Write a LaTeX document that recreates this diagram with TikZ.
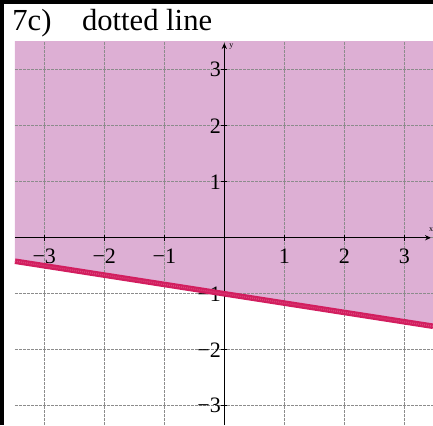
\documentclass[tikz,border=0pt]{standalone}
\usepackage{fontspec}
\setmainfont{Liberation Serif}
\usetikzlibrary{arrows.meta}
\definecolor{regionpink}{RGB}{221,175,212}
\definecolor{edgecrimson}{RGB}{210,30,95}
\definecolor{edgelight}{RGB}{222,70,125}
\begin{document}
\begin{tikzpicture}[
x=30pt, y=28pt,
gridline/.style={gray!90, line width=0.5pt, dash pattern=on 1.5pt off 0.5pt},
axis/.style={-{Stealth[length=3pt, width=2.6pt]}, line width=0.5pt},
ticklabel/.style={inner sep=0pt, font=\fontsize{11}{13}\selectfont},
axislabel/.style={inner sep=0pt, font=\fontsize{4}{5}\selectfont},
boundary/.style={edgecrimson, line width=2.8pt},
boundarytex/.style={edgelight, line width=0.7pt, dash pattern=on 0.4pt off 0.6pt}
]
\useasboundingbox (-3.738,-3.345) rectangle (3.478,4.245);
% shaded half-plane above the boundary
\coordinate (lineL) at (-3.488,-0.419);
\coordinate (lineR) at (3.478,-1.580);
\fill[regionpink] (lineL) -- (lineR) -- (3.478,3.512) -- (-3.488,3.512) -- cycle;
% grid
\foreach \k in {-3,...,3} {
  \draw[gridline] (\k,-3.345) -- (\k,3.512);
  \draw[gridline] (-3.488,\k) -- (3.478,\k);
}
% axes
\coordinate (xmin) at (-3.488,0);
\coordinate (xmax) at (3.445,0);
\coordinate (ymin) at (0,-3.345);
\coordinate (ymax) at (0,3.477);
\draw[axis] (xmin) -- (xmax);
\draw[axis] (ymin) -- (ymax);
\node[axislabel] (xname) at (3.445,0.15) {x};
\node[axislabel] (yname) at (0.117,3.41) {y};
% ticks and labels
\foreach \k/\t in {-3/−3,-2/−2,-1/−1,1/1,2/2,3/3} {
  \draw[line width=0.5pt] (\k,-0.054) -- (\k,0.054);
  \draw[line width=0.5pt] (-0.05,\k) -- (0.05,\k);
  \node[ticklabel, anchor=north] (xt\k) at (\k,-0.2) {\t};
  \node[ticklabel, anchor=east] (yt\k) at (-0.05,\k) {\t};
}
% boundary y = -x/6 - 1
\draw[boundary] (lineL) -- (lineR);
\draw[boundarytex] (lineL) -- (lineR);
% frame and title
\draw[line width=1.9pt] (-3.705,-3.345) -- (-3.705,4.214) -- (3.478,4.214);
\node[inner sep=0pt, anchor=base west, font=\fontsize{15.3}{18}\selectfont] (title) at (-3.538,3.697) {7c)\quad dotted line};
\end{tikzpicture}
\end{document}
